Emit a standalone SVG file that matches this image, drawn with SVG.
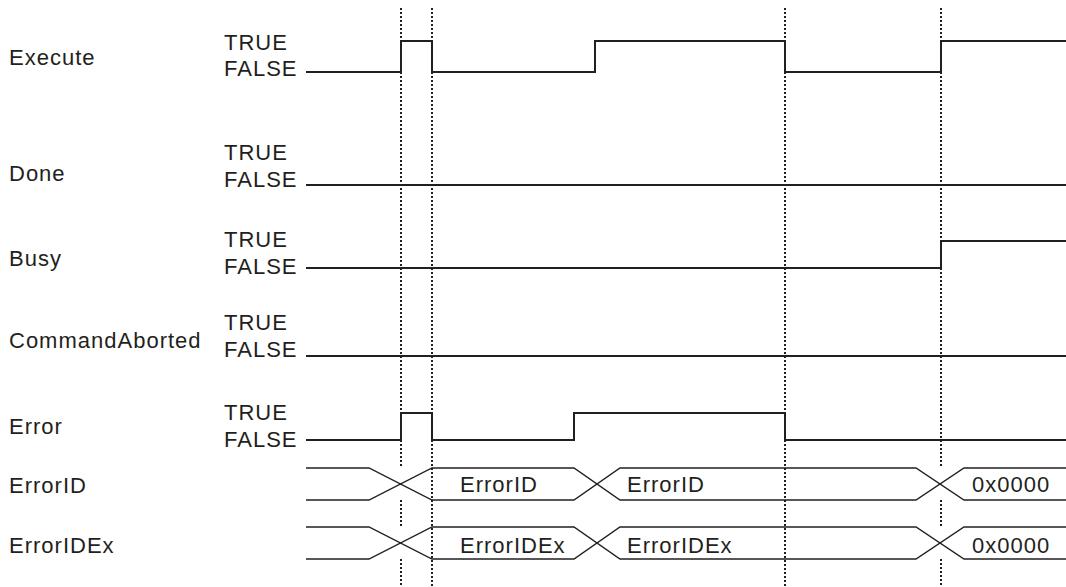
<svg xmlns="http://www.w3.org/2000/svg" width="1066" height="587" viewBox="0 0 1066 587">
<style>
text{font-family:"Liberation Sans",Arial,sans-serif;font-size:22px;letter-spacing:1px;fill:#231f20}
.sig{fill:none;stroke:#231f20;stroke-width:2}
.bus{fill:none;stroke:#231f20;stroke-width:1.4}
.dot{fill:none;stroke:#231f20;stroke-width:2;stroke-dasharray:2 2}
</style>
<rect width="1066" height="587" fill="#fff"/>
<g id="timing-marks">
<path class="dot" d="M401 8V468M401 500V527M401 559V587"/>
<path class="dot" d="M432 8V587"/>
<path class="dot" d="M785 8V587"/>
<path class="dot" d="M941 8V468M941 500V527M941 559V587"/>
</g>
<g id="execute">
<text x="9" y="65">Execute</text>
<text x="224" y="50">TRUE</text>
<text x="224" y="76">FALSE</text>
<path class="sig" d="M306 72H401V41H432V72H595V41H785V72H941V41H1066"/>
</g>
<g id="done">
<text x="9" y="181">Done</text>
<text x="224" y="160">TRUE</text>
<text x="224" y="187">FALSE</text>
<path class="sig" d="M306 185H1066"/>
</g>
<g id="busy">
<text x="9" y="266">Busy</text>
<text x="224" y="247">TRUE</text>
<text x="224" y="274">FALSE</text>
<path class="sig" d="M306 268H941V241H1066"/>
</g>
<g id="commandaborted">
<text x="9" y="348">CommandAborted</text>
<text x="224" y="330">TRUE</text>
<text x="224" y="357">FALSE</text>
<path class="sig" d="M306 356H1066"/>
</g>
<g id="error">
<text x="9" y="434">Error</text>
<text x="224" y="420">TRUE</text>
<text x="224" y="447">FALSE</text>
<path class="sig" d="M306 440H401V413H432V440H574V413H785V440H1066"/>
</g>
<g id="errorid">
<text x="9" y="493">ErrorID</text>
<path class="bus" d="M306 468H369L432 500H574L620 468H916L964 500H1066"/>
<path class="bus" d="M306 500H369L432 468H574L620 500H916L964 468H1066"/>
<text x="460" y="492">ErrorID</text>
<text x="627" y="492">ErrorID</text>
<text x="972" y="492">0x0000</text>
</g>
<g id="erroridex">
<text x="9" y="553">ErrorIDEx</text>
<path class="bus" d="M306 527H369L432 559H574L620 527H916L964 559H1066"/>
<path class="bus" d="M306 559H369L432 527H574L620 559H916L964 527H1066"/>
<text x="460" y="553">ErrorIDEx</text>
<text x="627" y="553">ErrorIDEx</text>
<text x="972" y="553">0x0000</text>
</g>
</svg>
